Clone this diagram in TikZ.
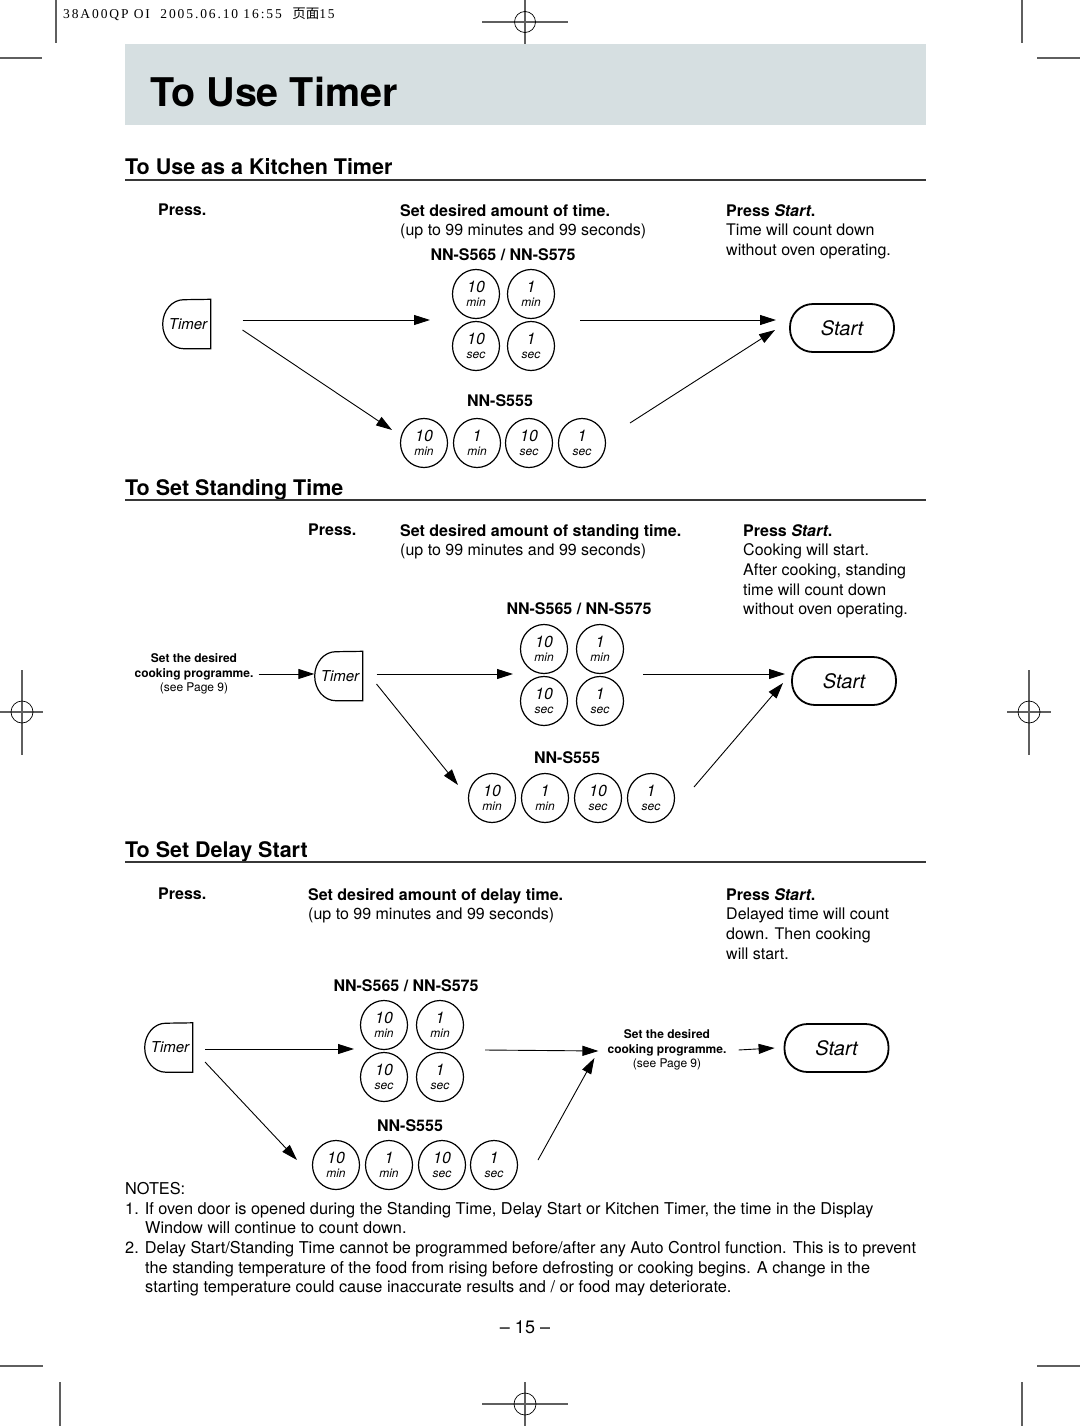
\documentclass[tikz,border=0pt]{standalone}
\usepackage{fontspec}
\setmainfont{TeX Gyre Heros}
\newfontfamily\cjkfont{Noto Sans CJK SC}
\newfontfamily\slugfont[LetterSpace=14]{Liberation Serif}
\usetikzlibrary{arrows.meta,calc,shapes.geometric}

\definecolor{bannergray}{RGB}{214,223,225}
\definecolor{rulegray}{RGB}{55,55,55}
\definecolor{markgray}{RGB}{95,95,95}

\newcommand{\unitfont}{\fontsize{12}{12}\selectfont}

\begin{document}
\begin{tikzpicture}
[x=1pt,y=-1pt,
  keyDecorate/.style={shape=ellipse,draw,line width=1.2pt,minimum width=47pt,
    minimum height=49pt,inner sep=0pt,align=center,
    font=\fontsize{16}{16}\selectfont\itshape},
  timerDecorate/.style={minimum width=48pt,minimum height=49pt,inner sep=0pt,
    font=\fontsize{15}{15}\selectfont\itshape},
  startDecorate/.style={draw,line width=1.8pt,rounded corners=23pt,
    minimum width=104pt,minimum height=48pt,
    font=\fontsize{20}{20}\selectfont\itshape},
  lineDecorate/.style={-{Triangle[length=16pt,width=10pt]},line width=0.9pt},
  bodyText/.style={inner sep=0pt,align=left,font=\fontsize{16}{19.7}\selectfont},
  boldText/.style={bodyText,font=\fontsize{16}{19.7}\selectfont\bfseries},
  smallText/.style={inner sep=0pt,align=center,font=\fontsize{12}{14.5}\selectfont},
  headText/.style={inner sep=0pt,anchor=base west,font=\fontsize{21.5}{21.5}\selectfont\bfseries},
  markLine/.style={markgray,line width=1.2pt}]
\useasboundingbox (0,0) rectangle (1080,1426);

%% crop marks
\draw[markLine] (56,0) -- (56,43) (0,58) -- (42,58);
\draw[markLine] (1022,0) -- (1022,43) (1037,58) -- (1080,58);
\draw[markLine] (525,0) -- (525,44) (482,22) -- (568,22);
\draw[line width=0.7pt] (525,22) circle[radius=10.5];
\draw[markLine] (22,670) -- (22,755) (0,712) -- (43,712);
\draw[line width=0.7pt] (22,712) circle[radius=11];
\draw[markLine] (1029,670) -- (1029,755) (1007,712) -- (1051,712);
\draw[line width=0.7pt] (1029,712) circle[radius=11];
\draw[markLine] (0,1366) -- (43,1366) (60,1382) -- (60,1426);
\draw[markLine] (1037,1366) -- (1080,1366) (1022,1382) -- (1022,1426);
\draw[markLine] (525,1382) -- (525,1426) (482,1404) -- (568,1404);
\draw[line width=0.7pt] (525,1404) circle[radius=11];
\node (slug) [inner sep=0pt,anchor=west,font=\fontsize{13.5}{13.5}\selectfont] at (63,14)
  {\slugfont 38A00QP OI\ \ 2005.06.10 16:55\ \ {\cjkfont 页面}15};

%% banner and headings
\fill[bannergray] (125,44) rectangle (926,125);
\node (title) [inner sep=0pt,anchor=base west,font=\fontsize{39.5}{39.5}\selectfont\bfseries]
  at (150,107) {To Use Timer};
\node (headA) [headText] at (125,174) {To Use as a Kitchen Timer};
\node (headB) [headText] at (125,495) {To Set Standing Time};
\node (headC) [headText] at (125,857) {To Set Delay Start};
\foreach \y in {180,500,862}
{
  \draw[rulegray,line width=2pt] (125,\y) -- (926,\y);
}

%% keys
\foreach \nm/\x/\y/\tn/\tu in {
  a1/476/294/10/min, a2/531/294/1/min, a3/476/346/10/sec, a4/531/346/1/sec,
  b1/424/443/10/min, b2/477/443/1/min, b3/529/443/10/sec, b4/582/443/1/sec,
  c1/544/649/10/min, c2/600/649/1/min, c3/544/701/10/sec, c4/600/701/1/sec,
  d1/492/798/10/min, d2/545/798/1/min, d3/598/798/10/sec, d4/651/798/1/sec,
  e1/384/1025/10/min, e2/440/1025/1/min, e3/384/1077/10/sec, e4/440/1077/1/sec,
  f1/336/1165/10/min, f2/389/1165/1/min, f3/442/1165/10/sec, f4/494/1165/1/sec}
{
  \node (\nm) at (\x,\y) [keyDecorate] {\tn\\[-2.6pt]{\unitfont\tu}};
}
\node (tkA) at (186.5,324) [timerDecorate] {\hspace*{3pt}Timer};
\node (tkB) at (338.5,676) [timerDecorate] {\hspace*{3pt}Timer};
\node (tkC) at (168.5,1047.5) [timerDecorate] {\hspace*{3pt}Timer};
\foreach \t in {tkA,tkB,tkC}
{
  \draw[line width=1.2pt] (\t.north east) -- (\t.south east) -- ++(-27,0)
    arc[start angle=90,end angle=270,x radius=21,y radius=24.5] -- cycle;
}
\node (stA) at (842,328) [startDecorate] {Start};
\node (stB) at (844,681) [startDecorate] {Start};
\node (stC) at (836.5,1048) [startDecorate] {Start};

%% kitchen timer texts
\node (pressA) [boldText,anchor=north west] at (158,204) {Press.};
\node (setA) [bodyText,anchor=north west] at (400,204)
  {\textbf{Set desired amount of time.}\\(up to 99 minutes and 99 seconds)};
\node (doneA) [bodyText,anchor=north west] at (726,204)
  {\textbf{Press \textit{Start}.}\\Time will count down\\without oven operating.};
\node (modelA) [boldText,anchor=north] at (503,248) {NN-S565 / NN-S575};
\node (modelA2) [boldText,anchor=north] at (500,394) {NN-S555};

%% standing time texts
\node (pressB) [boldText,anchor=north west] at (308,524) {Press.};
\node (setB) [bodyText,anchor=north west] at (400,524)
  {\textbf{Set desired amount of standing time.}\\(up to 99 minutes and 99 seconds)};
\node (doneB) [bodyText,anchor=north west] at (743,524)
  {\textbf{Press \textit{Start}.}\\Cooking will start.\\After cooking, standing\\time will count down\\without oven operating.};
\node (modelB) [boldText,anchor=north] at (579,602) {NN-S565 / NN-S575};
\node (modelB2) [boldText,anchor=north] at (567,751) {NN-S555};
\node (progB) [smallText,anchor=north] at (194,653.5)
  {\textbf{Set the desired}\\\textbf{cooking programme.}\\(see Page 9)};

%% delay start texts
\node (pressC) [boldText,anchor=north west] at (158,888) {Press.};
\node (setC) [bodyText,anchor=north west] at (308,888)
  {\textbf{Set desired amount of delay time.}\\(up to 99 minutes and 99 seconds)};
\node (doneC) [bodyText,anchor=north west] at (726,888)
  {\textbf{Press \textit{Start}.}\\Delayed time will count\\down. Then cooking\\will start.};
\node (modelC) [boldText,anchor=north] at (406,979) {NN-S565 / NN-S575};
\node (modelC2) [boldText,anchor=north] at (410,1119) {NN-S555};
\node (progC) [smallText,anchor=north] at (667,1029.5)
  {\textbf{Set the desired}\\\textbf{cooking programme.}\\(see Page 9)};

%% arrows
\draw[lineDecorate] ($(tkA)+(56,-4)$) -- ($(a1)+(-46,26)$);
\draw[lineDecorate] ($(tkA)+(56,6)$) -- ($(b1)+(-32,-13)$);
\draw[lineDecorate] ($(a2)+(49,26)$) -- ($(stA)+(-66,-8)$);
\draw[lineDecorate] ($(b4)+(48,-20)$) -- ($(stA)+(-67,2)$);
\draw[lineDecorate] ($(progB.east)+(5,0)$) -- (progB.east -| tkB.west);
\draw[lineDecorate] ($(tkB)+(38,-2)$) -- ($(c1)+(-31,25)$);
\draw[lineDecorate] ($(tkB)+(38,8)$) -- ($(d1)+(-34,-13)$);
\draw[lineDecorate] ($(c2)+(43,25)$) -- ($(stB)+(-59,-7)$);
\draw[lineDecorate] ($(d4)+(43,-11)$) -- ($(stB)+(-61,2)$);
\draw[lineDecorate] ($(tkC)+(36.5,1.5)$) -- ($(e1)+(-30,24)$);
\draw[lineDecorate] ($(tkC)+(36.5,14.5)$) -- ($(f1)+(-39,-5)$);
\draw[lineDecorate] ($(e2)+(45,25)$) -- ($(progC.west)+(-9,1)$);
\draw[lineDecorate] ($(f4)+(44,-5)$) -- ($(progC.west)+(-13,8)$);
\draw[lineDecorate] ($(progC.east)+(12,0)$) -- ($(stC.west)+(-9,0)$);

%% notes
\node (notes) [bodyText,anchor=north west,font=\fontsize{16.3}{19.7}\selectfont] at (125,1182)
  {NOTES:\\
   1. If oven door is opened during the Standing Time, Delay Start or Kitchen Timer, the time in the Display\\
   \hspace*{20pt}Window will continue to count down.\\
   2. Delay Start/Standing Time cannot be programmed before/after any Auto Control function. This is to prevent\\
   \hspace*{20pt}the standing temperature of the food from rising before defrosting or cooking begins. A change in the\\
   \hspace*{20pt}starting temperature could cause inaccurate results and / or food may deteriorate.};
\node (pageno) [bodyText,font=\fontsize{18}{18}\selectfont] at (525,1327) {-- 15 --};
\end{tikzpicture}
\end{document}
